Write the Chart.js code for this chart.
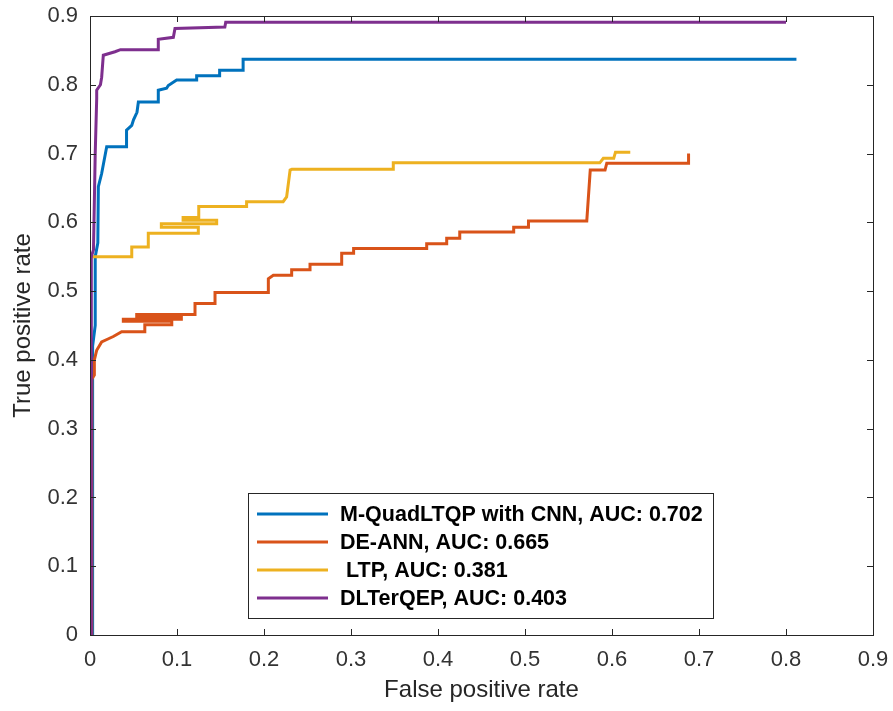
<!DOCTYPE html>
<html>
<head>
<meta charset="utf-8">
<script src="https://cdn.jsdelivr.net/npm/chart.js@4.4.1/dist/chart.umd.min.js"></script>
<style>
  body { margin: 0; background: #fff; }
  #wrap { width: 893px; height: 711px; }
</style>
</head>
<body>
<div id="wrap"><canvas id="roc"></canvas></div>
<script>
// Ticks
const xTicks = [0, 0.1, 0.2, 0.3, 0.4, 0.5, 0.6, 0.7, 0.8, 0.9];
const xTickLabels = ["0", "0.1", "0.2", "0.3", "0.4", "0.5", "0.6", "0.7", "0.8", "0.9"];
const yTicks = [0, 0.1, 0.2, 0.3, 0.4, 0.5, 0.6, 0.7, 0.8, 0.9];
const yTickLabels = ["0", "0.1", "0.2", "0.3", "0.4", "0.5", "0.6", "0.7", "0.8", "0.9"];

// Legend labels
const seriesNames = [
  "M-QuadLTQP with CNN, AUC: 0.702",
  "DE-ANN, AUC: 0.665",
  " LTP, AUC: 0.381",
  "DLTerQEP, AUC: 0.403"
];
const seriesColors = ["#0072BD", "#D95319", "#EDB120", "#7E2F8E"];

// M-QuadLTQP with CNN (corner points of the ROC staircase)
const fprQuad = [0.003, 0.003, 0.006, 0.006, 0.009, 0.0096, 0.0134, 0.0192, 0.042, 0.042, 0.048, 0.050, 0.054, 0.0556, 0.0785, 0.0785, 0.088, 0.090, 0.0996, 0.1226, 0.1226, 0.149, 0.149, 0.176, 0.176, 0.812];
const tprQuad = [0, 0.42, 0.45, 0.55, 0.57, 0.652, 0.671, 0.710, 0.710, 0.734, 0.741, 0.749, 0.760, 0.775, 0.775, 0.792, 0.795, 0.799, 0.807, 0.807, 0.813, 0.813, 0.821, 0.821, 0.837, 0.837];

// DE-ANN
const fprAnn = [0.002, 0.002, 0.005, 0.005, 0.0077, 0.0134, 0.020, 0.0268, 0.0364, 0.063, 0.063, 0.094, 0.094, 0.0383, 0.0383, 0.105, 0.105, 0.0537, 0.0537, 0.1207, 0.1207, 0.1437, 0.1437, 0.205, 0.205, 0.2107, 0.2318, 0.2318, 0.2529, 0.2529, 0.2893, 0.2893, 0.303, 0.303, 0.387, 0.387, 0.41, 0.41, 0.425, 0.425, 0.487, 0.487, 0.504, 0.504, 0.571, 0.575, 0.592, 0.594, 0.688, 0.688];
const tprAnn = [0, 0.372, 0.378, 0.400, 0.414, 0.426, 0.430, 0.434, 0.441, 0.441, 0.451, 0.451, 0.456, 0.456, 0.459, 0.459, 0.463, 0.463, 0.466, 0.466, 0.482, 0.482, 0.498, 0.498, 0.518, 0.523, 0.523, 0.531, 0.531, 0.539, 0.539, 0.555, 0.555, 0.562, 0.562, 0.569, 0.569, 0.577, 0.577, 0.586, 0.586, 0.593, 0.593, 0.602, 0.602, 0.676, 0.676, 0.686, 0.686, 0.700];

// LTP
const fprLtp = [0, 0, 0.048, 0.048, 0.067, 0.067, 0.1245, 0.1245, 0.082, 0.082, 0.1456, 0.1456, 0.107, 0.107, 0.125, 0.125, 0.180, 0.180, 0.222, 0.226, 0.230, 0.232, 0.3486, 0.3486, 0.586, 0.590, 0.602, 0.604, 0.621];
const tprLtp = [0, 0.550, 0.550, 0.564, 0.564, 0.584, 0.584, 0.593, 0.593, 0.598, 0.598, 0.603, 0.603, 0.607, 0.607, 0.623, 0.623, 0.630, 0.630, 0.637, 0.676, 0.677, 0.677, 0.6865, 0.6865, 0.693, 0.693, 0.702, 0.702];

// DLTerQEP
const fprQep = [0.0015, 0.0015, 0.004, 0.006, 0.0077, 0.0077, 0.012, 0.0134, 0.0153, 0.0287, 0.035, 0.0785, 0.0785, 0.0958, 0.0977, 0.155, 0.156, 0.800];
const tprQep = [0, 0.55, 0.56, 0.70, 0.78, 0.792, 0.80, 0.811, 0.843, 0.848, 0.851, 0.851, 0.866, 0.869, 0.882, 0.884, 0.891, 0.891];

const pts = (xs, ys) => xs.map((x, i) => ({ x: x, y: ys[i] }));

const textColor = "#262626";
const fontFamily = "'Liberation Sans', Arial, Helvetica, sans-serif";

// axes box + inward ticks, MATLAB style
const boxPlugin = {
  id: "box",
  afterDatasetsDraw(chart) {
    const { ctx, chartArea: a, scales } = chart;
    ctx.save();
    ctx.strokeStyle = textColor;
    ctx.lineWidth = 1;
    ctx.beginPath();
    xTicks.forEach(v => {
      const px = Math.round(scales.x.getPixelForValue(v)) + 0.5;
      ctx.moveTo(px, a.bottom); ctx.lineTo(px, a.bottom - 6);
      ctx.moveTo(px, a.top); ctx.lineTo(px, a.top + 6);
    });
    yTicks.forEach(v => {
      const py = Math.round(scales.y.getPixelForValue(v)) + 0.5;
      ctx.moveTo(a.left, py); ctx.lineTo(a.left + 6, py);
      ctx.moveTo(a.right, py); ctx.lineTo(a.right - 6, py);
    });
    ctx.stroke();
    ctx.strokeRect(Math.round(a.left) + 0.5, Math.round(a.top) + 0.5,
      Math.round(a.right - a.left), Math.round(a.bottom - a.top));
    ctx.restore();
  }
};

// legend inside the plot, bottom centre
const legendPlugin = {
  id: "boxLegend",
  afterDraw(chart) {
    const { ctx } = chart;
    const left = 248, top = 493, w = 465, h = 125;
    ctx.save();
    ctx.fillStyle = "#fff";
    ctx.fillRect(left, top, w, h);
    ctx.strokeStyle = textColor;
    ctx.lineWidth = 1;
    ctx.strokeRect(left + 0.5, top + 0.5, w, h);
    ctx.font = "bold 21.5px " + fontFamily;
    ctx.textBaseline = "middle";
    chart.data.datasets.forEach((ds, i) => {
      const y = top + 21 + i * 28;
      ctx.strokeStyle = ds.borderColor;
      ctx.lineWidth = 3;
      ctx.beginPath();
      ctx.moveTo(left + 9, y);
      ctx.lineTo(left + 80, y);
      ctx.stroke();
      ctx.fillStyle = "#000";
      ctx.fillText(ds.label, left + 92, y + 1);
    });
    ctx.restore();
  }
};

const datasets = [
  { label: seriesNames[0], data: pts(fprQuad, tprQuad), borderColor: seriesColors[0], order: 4 },
  { label: seriesNames[1], data: pts(fprAnn, tprAnn), borderColor: seriesColors[1], order: 3 },
  { label: seriesNames[2], data: pts(fprLtp, tprLtp), borderColor: seriesColors[2], order: 2 },
  { label: seriesNames[3], data: pts(fprQep, tprQep), borderColor: seriesColors[3], order: 1 }
].map(d => Object.assign(d, {
  showLine: true, pointRadius: 0, borderWidth: 3, tension: 0, fill: false
}));

new Chart(document.getElementById("roc"), {
  type: "scatter",
  data: { datasets: datasets },
  options: {
    responsive: true,
    maintainAspectRatio: false,
    animation: false,
    layout: { padding: { left: 0, right: 20, top: 16, bottom: 0 } },
    plugins: { legend: { display: false }, tooltip: { enabled: false } },
    scales: {
      x: {
        type: "linear", min: 0, max: 0.9,
        afterBuildTicks: s => { s.ticks = xTicks.map(v => ({ value: v })); },
        afterFit: s => { s.height = 76; s.paddingLeft = 0; s.paddingRight = 0; },
        grid: { display: false, drawTicks: false },
        border: { display: false },
        ticks: {
          padding: 12, color: "#333", maxRotation: 0, autoSkip: false,
          font: { family: fontFamily, size: 22 },
          callback: (v, i) => xTickLabels[i]
        },
        title: {
          display: true, text: "False positive rate", color: textColor,
          font: { family: fontFamily, size: 24 }, padding: { top: 0, bottom: 6 }
        }
      },
      y: {
        type: "linear", min: 0, max: 0.9,
        afterBuildTicks: s => { s.ticks = yTicks.map(v => ({ value: v })); },
        afterFit: s => { s.width = 90; s.paddingTop = 0; s.paddingBottom = 0; },
        grid: { display: false, drawTicks: false },
        border: { display: false },
        ticks: {
          padding: 12, color: "#333", autoSkip: false,
          font: { family: fontFamily, size: 22 },
          callback: (v, i) => yTickLabels[i]
        },
        title: {
          display: true, text: "True positive rate", color: textColor,
          font: { family: fontFamily, size: 24 }, padding: { top: 9, bottom: 0 }
        }
      }
    }
  },
  plugins: [boxPlugin, legendPlugin]
});
</script>
</body>
</html>
